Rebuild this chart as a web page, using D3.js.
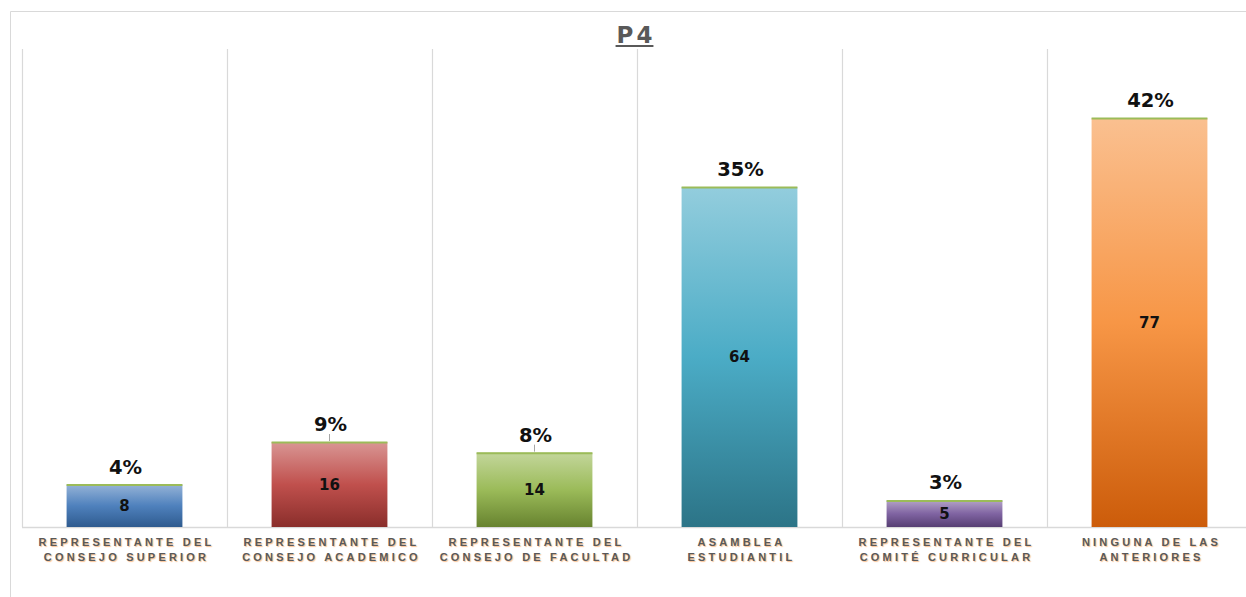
<!DOCTYPE html>
<html>
<head>
<meta charset="utf-8">
<script src="https://cdn.jsdelivr.net/npm/d3@7"></script>
<style>
  body { margin: 0; background: #fff; }
  .cat { font-family: "Liberation Sans", Arial, sans-serif; font-weight: bold; font-size: 11px;
         letter-spacing: 3.2px; fill: #595959; text-shadow: 1px 1px 1px rgba(247,150,70,0.6); }
  .pct { font-family: "DejaVu Sans", sans-serif; font-weight: bold; font-size: 19.5px; fill: #111; }
  .val { font-family: "DejaVu Sans", sans-serif; font-weight: bold; font-size: 15px; fill: #111; }
</style>
</head>
<body>
<div id="plot"></div>
<script>
// data
const categories = [
  ["REPRESENTANTE DEL", "CONSEJO SUPERIOR"],
  ["REPRESENTANTE DEL", "CONSEJO ACADEMICO"],
  ["REPRESENTANTE DEL", "CONSEJO DE FACULTAD"],
  ["ASAMBLEA", "ESTUDIANTIL"],
  ["REPRESENTANTE DEL", "COMITÉ CURRICULAR"],
  ["NINGUNA DE LAS", "ANTERIORES"]
];
const counts = [8, 16, 14, 64, 5, 77];
const percents = ["4%", "9%", "8%", "35%", "3%", "42%"];
// gradient stops per bar: top, middle, bottom
const palettes = [
  ["#95b3d7", "#4f81bd", "#2f5b8f"],
  ["#d99694", "#c0504d", "#8a2e2b"],
  ["#c3d69b", "#9bbb59", "#67832f"],
  ["#93cddd", "#4bacc6", "#2c7487"],
  ["#b3a2c7", "#8064a2", "#563e73"],
  ["#fac090", "#f79646", "#cc5c0a"]
];

const W = 1246, H = 597;
const margin = {top: 49, right: -6, bottom: 70, left: 22},
    width = W - margin.left - margin.right,
    height = H - margin.top - margin.bottom;

const root = d3.select("#plot")
  .append("svg")
  .attr("width", W)
  .attr("height", H);

// gradients
const defs = root.append("defs");
palettes.forEach((p, i) => {
  const g = defs.append("linearGradient")
    .attr("id", "grad" + i)
    .attr("x1", 0).attr("y1", 0).attr("x2", 0).attr("y2", 1);
  g.append("stop").attr("offset", "0%").attr("stop-color", p[0]);
  g.append("stop").attr("offset", "50%").attr("stop-color", p[1]);
  g.append("stop").attr("offset", "100%").attr("stop-color", p[2]);
});

// chart frame
root.append("path")
  .attr("d", "M10.5," + H + "V11.5H" + W)
  .attr("fill", "none")
  .attr("stroke", "#d9d9d9")
  .attr("stroke-width", 1);

const svg = root.append("g")
  .attr("transform", "translate(" + margin.left + "," + margin.top + ")");

const x = d3.scaleBand()
  .domain(d3.range(categories.length))
  .range([0, width])
  .paddingInner(0)
  .paddingOuter(0);

const y = d3.scaleLinear()
  .domain([0, 90])
  .range([height, 0]);

// vertical category separators
svg.append("g")
  .selectAll("line")
  .data(d3.range(categories.length + 1))
  .enter()
  .append("line")
  .attr("x1", d => d * x.bandwidth() + 0.5)
  .attr("x2", d => d * x.bandwidth() + 0.5)
  .attr("y1", 0)
  .attr("y2", height)
  .attr("stroke", "#d9d9d9")
  .attr("stroke-width", 1.2);

// baseline
svg.append("line")
  .attr("x1", 0).attr("x2", width)
  .attr("y1", height + 0.5).attr("y2", height + 0.5)
  .attr("stroke", "#d9d9d9")
  .attr("stroke-width", 1.5);

const barW = x.bandwidth() * 0.565;
const bx = i => x(i) + (x.bandwidth() - barW) / 2;

// bars
svg.append("g")
  .selectAll("rect")
  .data(counts)
  .enter()
  .append("rect")
  .attr("x", (d, i) => bx(i))
  .attr("y", d => y(d))
  .attr("width", barW)
  .attr("height", d => height - y(d))
  .attr("fill", (d, i) => "url(#grad" + i + ")");

// green top edge
svg.append("g")
  .selectAll("line")
  .data(counts)
  .enter()
  .append("line")
  .attr("x1", (d, i) => bx(i))
  .attr("x2", (d, i) => bx(i) + barW)
  .attr("y1", d => y(d) + 0.5)
  .attr("y2", d => y(d) + 0.5)
  .attr("stroke", "#9bbb59")
  .attr("stroke-width", 2);

// leader lines for 9% and 8%
svg.append("g")
  .selectAll("line")
  .data([1, 2])
  .enter()
  .append("line")
  .attr("x1", i => x(i) + x.bandwidth() / 2)
  .attr("x2", i => x(i) + x.bandwidth() / 2)
  .attr("y1", i => y(counts[i]) - 8)
  .attr("y2", i => y(counts[i]) - 1)
  .attr("stroke", "#a6a6a6")
  .attr("stroke-width", 1);

// percent labels
svg.append("g")
  .selectAll("text")
  .data(percents)
  .enter()
  .append("text")
  .attr("class", "pct")
  .attr("x", (d, i) => x(i) + x.bandwidth() / 2 + 1)
  .attr("y", (d, i) => y(counts[i]) - 11)
  .attr("text-anchor", "middle")
  .text(d => d);

// value labels inside bars
svg.append("g")
  .selectAll("text")
  .data(counts)
  .enter()
  .append("text")
  .attr("class", "val")
  .attr("x", (d, i) => x(i) + x.bandwidth() / 2)
  .attr("y", d => (y(d) + height) / 2 + 5)
  .attr("text-anchor", "middle")
  .text(d => d);

// category labels
const cat = svg.append("g")
  .selectAll("text")
  .data(categories)
  .enter()
  .append("text")
  .attr("class", "cat")
  .attr("text-anchor", "middle")
  .attr("y", height + 19);
cat.selectAll("tspan")
  .data((d, i) => d.map(t => ({t: t, i: i})))
  .enter()
  .append("tspan")
  .attr("x", d => x(d.i) + x.bandwidth() / 2 + 2)
  .attr("dy", (d, j) => j === 0 ? 0 : 15)
  .text(d => d.t);

// title
const title = root.append("text")
  .attr("x", 636)
  .attr("y", 43)
  .attr("text-anchor", "middle")
  .style("font-family", "'DejaVu Sans', sans-serif")
  .style("font-weight", "bold")
  .style("font-size", "23px")
  .style("letter-spacing", "3px")
  .style("fill", "#595959")
  .text("P4");
const tb = title.node().getBBox();
root.append("line")
  .attr("x1", tb.x - 1).attr("x2", tb.x + tb.width - 2)
  .attr("y1", 46).attr("y2", 46)
  .attr("stroke", "#595959")
  .attr("stroke-width", 2);
</script>
</body>
</html>
